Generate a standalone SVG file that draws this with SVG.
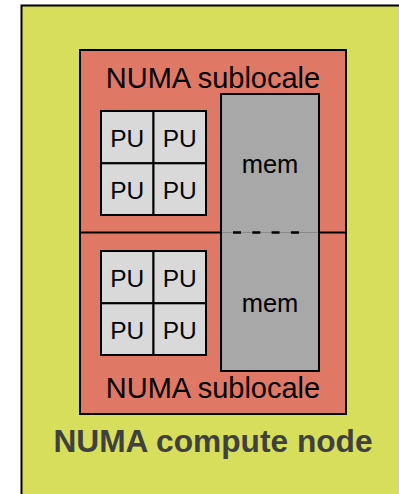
<svg xmlns="http://www.w3.org/2000/svg" width="399" height="494" viewBox="0 0 399 494">
<style>
.node{fill:#D6DE5B;stroke:#000;stroke-width:2}
.sub{fill:#E07866;stroke:#000;stroke-width:2}
.pu{fill:#D9D9D9;stroke:#000;stroke-width:2}
.mem{fill:#A8A8A8;stroke:#000;stroke-width:2}
.t{font-family:"Liberation Sans",Arial,sans-serif;fill:#000;text-anchor:middle}
.big{font-size:29px}
.pt{font-size:24.5px}
.mt{font-size:25.5px}
.title{font-family:"Liberation Sans",Arial,sans-serif;font-weight:bold;font-size:31.7px;fill:#404040;text-anchor:middle}
</style>
<rect x="0" y="0" width="399" height="494" fill="#fff"/>
<g id="compute-node">
<rect class="node" x="21.5" y="5.5" width="400" height="500"/>
<text class="title" x="213" y="451.5">NUMA compute node</text>
</g>
<g id="sublocales">
<rect class="sub" x="80" y="50" width="266" height="364"/>
</g>
<g id="sublocale-top">
<text class="t big" x="213" y="88">NUMA sublocale</text>
<g id="pu-top">
<rect class="pu" x="101" y="111" width="52.5" height="52.3"/>
<rect class="pu" x="153.5" y="111" width="52.5" height="52.3"/>
<rect class="pu" x="101" y="163.3" width="52.5" height="51.7"/>
<rect class="pu" x="153.5" y="163.3" width="52.5" height="51.7"/>
<text class="t pt" x="127.3" y="146.5">PU</text>
<text class="t pt" x="179.8" y="146.5">PU</text>
<text class="t pt" x="127.3" y="198.5">PU</text>
<text class="t pt" x="179.8" y="198.5">PU</text>
</g>
</g>
<g id="sublocale-bottom">
<text class="t big" x="213" y="398">NUMA sublocale</text>
<g id="pu-bottom">
<rect class="pu" x="101" y="251" width="52.5" height="52.3"/>
<rect class="pu" x="153.5" y="251" width="52.5" height="52.3"/>
<rect class="pu" x="101" y="303.3" width="52.5" height="51.7"/>
<rect class="pu" x="153.5" y="303.3" width="52.5" height="51.7"/>
<text class="t pt" x="127.3" y="287">PU</text>
<text class="t pt" x="179.8" y="287">PU</text>
<text class="t pt" x="127.3" y="339">PU</text>
<text class="t pt" x="179.8" y="339">PU</text>
</g>
</g>
<g id="connectors">
<line x1="80" y1="232.5" x2="346" y2="232.5" stroke="#000" stroke-width="2"/>
</g>
<g id="mem">
<rect class="mem" x="221" y="94" width="98" height="277"/>
<line x1="222" y1="232.5" x2="318" y2="232.5" stroke="#8a8a8a" stroke-width="1"/>
<line x1="233" y1="232.5" x2="301" y2="232.5" stroke="#000" stroke-width="2.5" stroke-dasharray="8 11.3"/>
<text class="t mt" x="270" y="173">mem</text>
<text class="t mt" x="270" y="312">mem</text>
</g>
</svg>
